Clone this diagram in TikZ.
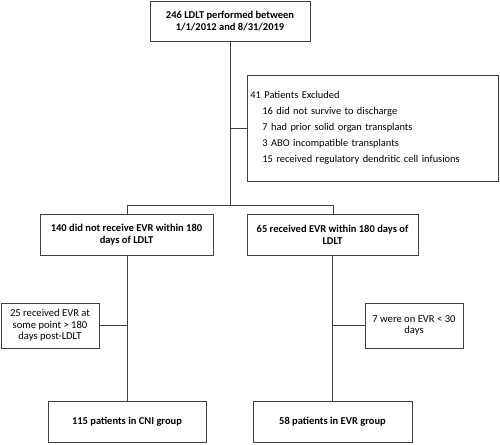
\documentclass[tikz,border=0pt]{standalone}
\usepackage{fontspec}
\setmainfont{Carlito}
\usetikzlibrary{positioning}

\tikzset{
    box/.style={draw=black!75,line width=.8pt,align=center,inner sep=2pt,font=\fontsize{10.5}{11.7}\selectfont\bfseries},
    sidebox/.style={draw=black!75,line width=.8pt,align=center,inner sep=2pt,font=\fontsize{10.6}{11.5}\selectfont},
    link/.style={draw=black!75,line width=.8pt}
}

\begin{document}
\begin{tikzpicture}[x=1pt,y=-1pt]
    \useasboundingbox (0,0) rectangle (500,444);

    % main boxes
    \node[box,minimum width=160pt,minimum height=40pt] (total) at (230,21) {246 LDLT performed between\\1/1/2012 and 8/31/2019};
    \node[box,minimum width=173pt,minimum height=41pt] (noevr) at (126.5,234.5) {140 did not receive EVR within 180\\days of LDLT};
    \node[box,minimum width=171pt,minimum height=41pt] (evr) at (332.5,234.5) {65 received EVR within 180 days of\\LDLT};
    \node[box,minimum width=158pt,minimum height=41pt] (cni) at (127,421.5) {115 patients in CNI group};
    \node[box,minimum width=159pt,minimum height=41pt] (evrgrp) at (332.5,421.5) {58 patients in EVR group};

    % excluded
    \node[sidebox,align=left,anchor=west,minimum width=251pt,minimum height=106pt,text width=245pt,font=\fontsize{10.4}{16}\selectfont] (excl) at (247,128)
    {41 Patients Excluded\\
     \hspace*{12pt}16 did not survive to discharge\\
     \hspace*{12pt}7 had prior solid organ transplants\\
     \hspace*{12pt}3 ABO incompatible transplants\\
     \hspace*{12pt}15 received regulatory dendritic cell infusions};

    % side boxes
    \node[sidebox,minimum width=98pt,minimum height=45pt] (late) at (50,325.5) {25 received EVR at\\some point > 180\\days post-LDLT};
    \node[sidebox,minimum width=98pt,minimum height=45pt] (short) at (414,325.5) {7 were on EVR < 30\\days};

    % connectors
    \coordinate (split) at (230,205);
    \coordinate (lsplit) at (127,205);
    \coordinate (rsplit) at (333,205);
    \path[link] (total.south) -- (split);
    \path[link] (split |- excl.west) -- (excl.west);
    \path[link] (lsplit) -- (rsplit);
    \path[link] (lsplit) -- (lsplit |- noevr.north);
    \path[link] (rsplit) -- (rsplit |- evr.north);
    \path[link] (noevr.south -| cni.north) -- (cni.north);
    \path[link] (evr.south -| evrgrp.north) -- (evrgrp.north);
    \path[link] (late.east) -- (late.east -| cni.north);
    \path[link] (short.west) -- (short.west -| evrgrp.north);
\end{tikzpicture}
\end{document}
